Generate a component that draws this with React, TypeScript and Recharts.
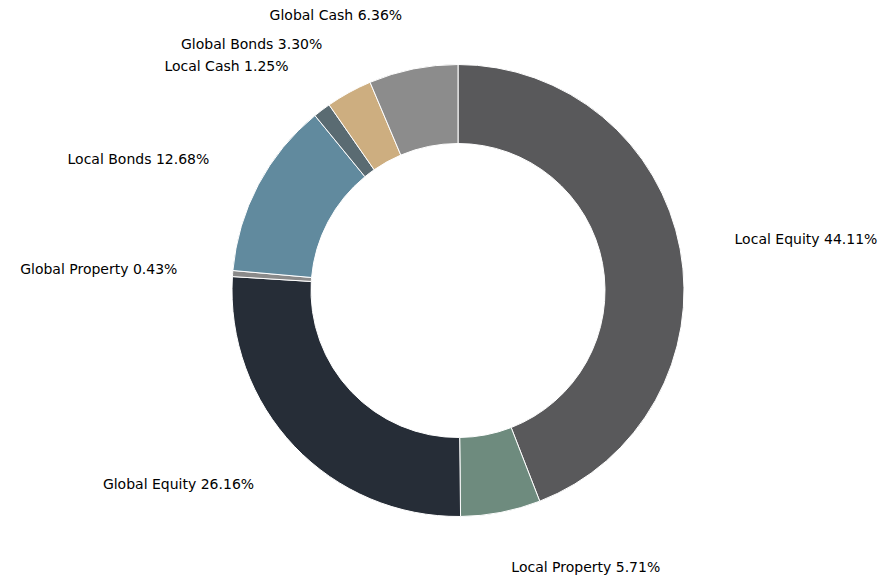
import { PieChart, Pie, Cell } from "recharts"

const labels = [
  "Local Equity",
  "Local Property",
  "Global Equity",
  "Global Property",
  "Local Bonds",
  "Local Cash",
  "Global Bonds",
  "Global Cash",
]
const shares = [44.11, 5.71, 26.16, 0.43, 12.68, 1.25, 3.3, 6.36]
const colors = ["#59595b", "#6e8b7e", "#262d37", "#8a8a8a", "#618a9e", "#5a6b72", "#cdae80", "#8c8c8c"]

const data = labels.map((name, i) => ({ name, value: shares[i] }))

const RAD = Math.PI / 180

// matplotlib-style label: placed at ~1.25 x outer radius, no connector line
const renderLabel = (props: any) => {
  const { cx, cy, midAngle, outerRadius, name, value } = props
  const r = outerRadius * 1.245
  const x = cx + r * Math.cos(-midAngle * RAD)
  const y = cy + r * Math.sin(-midAngle * RAD)
  return (
    <text
      x={x}
      y={y}
      fill="#000"
      fontSize={14}
      fontFamily="DejaVu Sans"
      textAnchor={x > cx ? "start" : "end"}
      dominantBaseline="central"
    >
      {`${name} ${value.toFixed(2)}%`}
    </text>
  )
}

export default function App() {
  return (
    <div style={{ width: 895, height: 579, background: "#fff" }}>
      <style>{"body{margin:0}"}</style>
      <PieChart width={895} height={579} margin={{ top: 0, right: 0, bottom: 0, left: 0 }}>
        <Pie
          data={data}
          dataKey="value"
          nameKey="name"
          cx={458}
          cy={290.5}
          innerRadius={147}
          outerRadius={226}
          startAngle={90}
          endAngle={-270}
          stroke="#fff"
          strokeWidth={1}
          label={renderLabel}
          labelLine={false}
          isAnimationActive={false}
        >
          {data.map((d, i) => (
            <Cell key={d.name} fill={colors[i]} />
          ))}
        </Pie>
      </PieChart>
    </div>
  )
}
